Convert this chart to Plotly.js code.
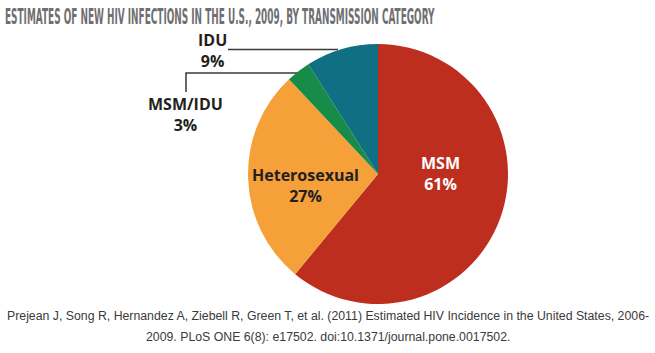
<!DOCTYPE html>
<html>
<head>
<meta charset="utf-8">
<script src="https://cdn.plot.ly/plotly-3.0.1.min.js"></script>
<style>html,body{margin:0;padding:0;background:#fff;}#chart{width:655px;height:353px;}</style>
</head>
<body>
<div id="chart"></div>
<script>
// Data
var categories = ["MSM", "Heterosexual", "MSM/IDU", "IDU"];
var shares = [61, 27, 3, 9];
var sliceColors = ["#BE2E1F", "#F5A038", "#178B48", "#116F83"];
var titleText = "ESTIMATES OF NEW HIV INFECTIONS IN THE U.S., 2009, BY TRANSMISSION CATEGORY";
var sourceLines = [
  "Prejean J, Song R, Hernandez A, Ziebell R, Green T, et al. (2011) Estimated HIV Incidence in the United States, 2006-",
  "2009. PLoS ONE 6(8): e17502. doi:10.1371/journal.pone.0017502."
];

var W = 655, H = 353;
function px(x){ return x / W; }
function py(y){ return 1 - y / H; }

var cx = 378, cy = 174, r = 130;

var trace = {
  type: "pie",
  labels: categories,
  values: shares,
  sort: false,
  direction: "clockwise",
  rotation: 0,
  marker: {colors: sliceColors, line: {width: 0}},
  textinfo: "none",
  hoverinfo: "none",
  showlegend: false,
  domain: {x: [px(cx - r), px(cx + r)], y: [py(cy + r), py(cy - r)]}
};

function lbl(i){ return "<b>" + categories[i] + "</b><br><b>" + shares[i] + "%</b>"; }
var labelFont = {family: "Open Sans, sans-serif", size: 16, color: "#231f20"};
var whiteFont = {family: "Open Sans, sans-serif", size: 16, color: "#ffffff"};
var srcFont = {family: "Liberation Sans, Arial, sans-serif", size: 12.3, color: "#3a3a3a"};
var annotations = [
  {text: lbl(0), x: px(440), y: py(173), font: whiteFont},
  {text: lbl(1), x: px(305), y: py(185), font: labelFont},
  {text: lbl(3), x: px(212), y: py(50), font: labelFont},
  {text: lbl(2), x: px(185), y: py(115), font: labelFont},
  {text: sourceLines[0], x: px(328), y: py(316), font: srcFont},
  {text: sourceLines[1], x: px(328), y: py(337), font: srcFont}
].map(function(a){
  a.xref = "paper"; a.yref = "paper"; a.showarrow = false; a.xanchor = "center"; a.yanchor = "middle"; a.align = "center";
  return a;
});

var shapes = [
  {type: "path", xref: "paper", yref: "paper",
   path: "M " + px(228) + "," + py(49.5) + " L " + px(338) + "," + py(49.5),
   line: {color: "#3a3a3a", width: 1.5}},
  {type: "path", xref: "paper", yref: "paper",
   path: "M " + px(186) + "," + py(92) + " L " + px(186) + "," + py(73) + " L " + px(297) + "," + py(73),
   line: {color: "#3a3a3a", width: 1.5}}
];

var layout = {
  width: W, height: H,
  margin: {l: 0, r: 0, t: 0, b: 0, pad: 0},
  paper_bgcolor: "#ffffff",
  title: {text: "<b>" + titleText + "</b>", x: px(5), xanchor: "left", xref: "paper", y: py(17), yref: "container", yanchor: "middle",
          font: {family: "Liberation Sans Narrow, DejaVu Sans Condensed, sans-serif", size: 21, color: "#6f6f71"}},
  annotations: annotations,
  shapes: shapes
};

Plotly.newPlot("chart", [trace], layout, {displayModeBar: false, staticPlot: true}).then(function(){
  var t = document.querySelector(".gtitle");
  if (t && t.getComputedTextLength) {
    var w = t.getComputedTextLength();
    var x0 = parseFloat(t.getAttribute("x")) || 5;
    var s = 430 / w;
    t.setAttribute("transform", "translate(" + (x0 * (1 - s)) + ",0) scale(" + s + ",1)");
  }
});
</script>
</body>
</html>
